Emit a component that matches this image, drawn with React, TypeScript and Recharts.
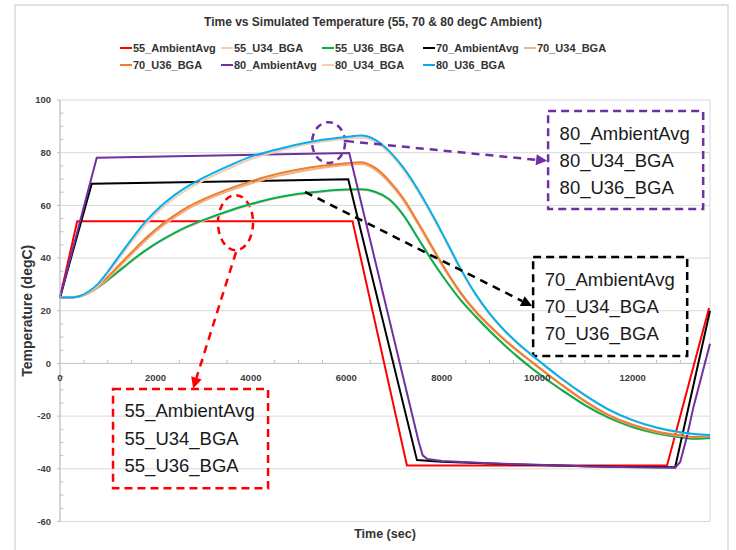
import React from 'react';
import {
  LineChart,
  Line,
  XAxis,
  YAxis,
  CartesianGrid,
  ReferenceLine,
  ReferenceArea,
  ReferenceDot,
} from 'recharts';

const FONT = '"Liberation Sans", Arial, Helvetica, sans-serif';

// ---------- axis ticks ----------
const xTicks = [0, 2000, 4000, 6000, 8000, 10000, 12000];
const yTicks = [-60, -40, -20, 0, 20, 40, 60, 80, 100];
const xMinorTicks = [500, 1000, 1500, 2500, 3000, 3500, 4500, 5000, 5500, 6500, 7000, 7500, 8500, 9000, 9500, 10500, 11000, 11500, 12500, 13000, 13500];
const yMinorTicks = [-55, -50, -45, -35, -30, -25, -15, -10, -5, 5, 10, 15, 25, 30, 35, 45, 50, 55, 65, 70, 75, 85, 90, 95];

// ---------- ambient series ----------
const t55Amb = [0, 360, 6130, 7270, 12720, 13600];
const v55Amb = [25, 54, 54, -38.7, -38.7, 21];

const t70Amb = [0, 665, 6040, 7480, 8000, 9000, 10000, 11000, 12000, 12890, 13620];
const v70Amb = [25, 68.2, 69.9, -36.7, -37.3, -38.0, -38.6, -39.0, -39.3, -39.4, 20];

const t80Amb = [0, 770, 6060, 7520, 7600, 7700, 8000, 9000, 10000, 11000, 12000, 12890, 12995, 13135, 13274, 13620];
const v80Amb = [25, 78.1, 79.9, -30.0, -34.9, -36.3, -37.0, -37.9, -38.5, -39.0, -39.4, -39.6, -37.4, -27.9, -16.5, 7.5];

// ---------- board (BGA) series ----------
const tBoard = [0, 200, 400, 600, 800, 1000, 1200, 1500, 1800, 2100, 2400, 2700, 3000, 3500, 4000, 4500, 5000, 5500, 6000, 6300, 6600, 6900, 7200, 7500, 7800, 8100, 8400, 8700, 9000, 9300, 9600, 9900, 10200, 10500, 11000, 11500, 12000, 12500, 13000, 13300, 13620];

const v55U34 = [25, 25, 25.3, 26.6, 28.7, 31.4, 34.3, 38.7, 42.7, 46.2, 49.3, 51.9, 54.1, 57.4, 60.2, 62.5, 64.1, 65.1, 65.7, 65.8, 64.9, 62.0, 55.9, 47.3, 38.7, 30.9, 23.8, 17.8, 12.2, 7.0, 2.2, -2.2, -6.3, -10.1, -16.0, -20.8, -24.3, -26.7, -28.1, -28.7, -28.4];
const v55U36 = [25, 25, 25.4, 26.8, 29.0, 31.7, 34.6, 39.0, 43.0, 46.5, 49.6, 52.2, 54.4, 57.7, 60.5, 62.8, 64.4, 65.4, 66.0, 66.1, 65.2, 62.3, 56.2, 47.6, 39.0, 31.1, 24.0, 18.0, 12.4, 7.2, 2.4, -2.0, -6.1, -9.9, -15.8, -20.6, -24.1, -26.5, -28.0, -28.6, -28.3];
const v70U34 = [25, 25, 25.3, 26.7, 29.1, 32.2, 35.9, 41.4, 46.8, 51.5, 55.4, 58.8, 61.5, 65.2, 68.3, 70.9, 72.8, 74.3, 75.3, 75.7, 73.6, 68.6, 61.8, 52.9, 43.6, 34.4, 26.3, 19.6, 14.0, 9.0, 4.4, 0.2, -4.0, -8.1, -14.5, -19.8, -23.5, -26.0, -27.5, -28.0, -27.5];
const v70U36 = [25, 25, 25.4, 27.0, 29.6, 32.8, 36.6, 42.2, 47.6, 52.3, 56.2, 59.6, 62.3, 66.0, 69.1, 71.7, 73.6, 75.0, 76.0, 76.4, 74.3, 69.3, 62.5, 53.6, 44.2, 35.0, 26.8, 20.0, 14.4, 9.3, 4.7, 0.4, -3.8, -7.9, -14.3, -19.6, -23.3, -25.8, -27.3, -27.9, -27.4];
const v80U34 = [25, 25, 25.4, 27.0, 29.8, 34.1, 38.9, 46.2, 52.9, 58.4, 62.8, 66.4, 69.4, 73.7, 77.6, 80.2, 82.5, 84.2, 85.3, 85.8, 84.3, 79.9, 73.5, 65.3, 55.9, 45.7, 35.3, 26.2, 18.7, 12.5, 7.3, 2.8, -1.6, -5.8, -12.2, -17.7, -21.7, -24.5, -26.3, -27.0, -27.3];
const v80U36 = [25, 25, 25.5, 27.3, 30.3, 34.8, 39.8, 47.2, 54.0, 59.5, 63.9, 67.5, 70.4, 74.7, 78.5, 81.0, 83.2, 84.9, 86.0, 86.5, 85.0, 80.6, 74.2, 66.0, 56.5, 46.3, 35.8, 26.6, 19.0, 12.8, 7.6, 3.0, -1.4, -5.6, -12.0, -17.5, -21.5, -24.3, -26.1, -26.8, -27.2];

const seriesNames = ['55_AmbientAvg', '55_U34_BGA', '55_U36_BGA', '70_AmbientAvg', '70_U34_BGA', '70_U36_BGA', '80_AmbientAvg', '80_U34_BGA', '80_U36_BGA'];
const seriesColors = ['#FF0000', '#F8CBAD', '#00B050', '#000000', '#F4B183', '#ED7D31', '#7030A0', '#F8CBAD', '#00B0F0'];

const zip = (ts: number[], vs: number[]) => ts.map((t, i) => ({ t, v: vs[i] }));

const seriesData = [
  zip(t55Amb, v55Amb),
  zip(tBoard, v55U34),
  zip(tBoard, v55U36),
  zip(t70Amb, v70Amb),
  zip(tBoard, v70U34),
  zip(tBoard, v70U36),
  zip(t80Amb, v80Amb),
  zip(tBoard, v80U34),
  zip(tBoard, v80U36),
];
const seriesCurve = ['linear', 'monotone', 'monotone', 'linear', 'monotone', 'monotone', 'linear', 'monotone', 'monotone'];

// ---------- annotation texts ----------
const note55 = ['55_AmbientAvg', '55_U34_BGA', '55_U36_BGA'];
const note70 = ['70_AmbientAvg', '70_U34_BGA', '70_U36_BGA'];
const note80 = ['80_AmbientAvg', '80_U34_BGA', '80_U36_BGA'];

const RED = '#FF0000';
const PURPLE = '#7030A0';
const BLACK = '#000000';

const boxShape = (color: string, lines: string[]) => (p: any) => (
  <g>
    <rect x={p.x} y={p.y} width={p.width} height={p.height} fill="none" stroke={color} strokeWidth={2.5} strokeDasharray="8 5" />
    {lines.map((s, i) => (
      <text key={s} x={p.x + 11.5} y={p.y + 28.5 + i * 27.3} fontSize={18.5} fill="#1a1a1a" fontFamily={FONT}>
        {s}
      </text>
    ))}
  </g>
);

const ellipseShape = (color: string) => (p: any) => (
  <ellipse
    cx={p.x + p.width / 2}
    cy={p.y + p.height / 2}
    rx={Math.abs(p.width) / 2}
    ry={Math.abs(p.height) / 2}
    fill="none"
    stroke={color}
    strokeWidth={2.5}
    strokeDasharray="7 5"
  />
);

const arrowShape = (color: string) => (p: any) => {
  const x1 = Number(p.x1), y1 = Number(p.y1), x2 = Number(p.x2), y2 = Number(p.y2);
  const ang = Math.atan2(y2 - y1, x2 - x1);
  const L = 11;
  const W = 5.5;
  const bx = x2 - L * Math.cos(ang);
  const by = y2 - L * Math.sin(ang);
  const pts = [
    [x2, y2],
    [bx - W * Math.sin(ang), by + W * Math.cos(ang)],
    [bx + W * Math.sin(ang), by - W * Math.cos(ang)],
  ]
    .map((q) => q.join(','))
    .join(' ');
  return (
    <g>
      <line x1={x1} y1={y1} x2={bx} y2={by} stroke={color} strokeWidth={2.5} strokeDasharray="8 6" />
      <polygon points={pts} fill={color} />
    </g>
  );
};

const xTickShape = (label: string) => (p: any) => (
  <text x={p.cx} y={p.cy + 17.5} textAnchor="middle" fontSize={9.5} fontWeight="bold" fill="#404040" fontFamily={FONT}>
    {label}
  </text>
);

export default function App() {
  return (
    <div style={{ position: 'absolute', left: 0, top: 0, width: 736, height: 550, overflow: 'hidden', background: '#fff', fontFamily: FONT }}>
      <div style={{ position: 'absolute', left: 14, top: 4, width: 715, height: 560, border: '2px solid #e2e2e2', boxSizing: 'border-box' }} />
      <div style={{ position: 'absolute', left: 10, top: 15, width: 726, textAlign: 'center', fontSize: 12, lineHeight: '15px', fontWeight: 'bold', color: '#333' }}>
        Time vs Simulated Temperature (55, 70 &amp; 80 degC Ambient)
      </div>
      <div style={{ position: 'absolute', left: 120, top: 39, display: 'grid', gridTemplateColumns: 'repeat(5, 101px)' }}>
        {seriesNames.map((n, i) => (
          <div key={n} style={{ display: 'flex', alignItems: 'center', height: 17, whiteSpace: 'nowrap' }}>
            <span style={{ display: 'inline-block', width: 12, height: 2, background: seriesColors[i] }} />
            <span style={{ marginLeft: 1, fontSize: 11, fontWeight: 'bold', color: '#333' }}>{n}</span>
          </div>
        ))}
      </div>
      <div style={{ position: 'absolute', left: 0, top: 0 }}>
        <LineChart width={736} height={550} margin={{ top: 100, right: 26, bottom: 8.5, left: 15 }}>
          <CartesianGrid stroke="#d9d9d9" strokeWidth={1} />
          <XAxis
            dataKey="t"
            type="number"
            domain={[0, 13620]}
            ticks={xTicks}
            allowDuplicatedCategory={false}
            height={20}
            tick={false}
            axisLine={false}
            tickLine={false}
            label={{ value: 'Time (sec)', position: 'insideBottom', offset: 4, style: { fontSize: 12.5, fontWeight: 'bold', fill: '#333', fontFamily: FONT } }}
          />
          <YAxis
            type="number"
            domain={[-60, 100]}
            ticks={yTicks}
            width={45}
            axisLine={{ stroke: '#bfbfbf' }}
            tickLine={{ stroke: '#bfbfbf' }}
            tickSize={3}
            tickMargin={6}
            tick={{ fontSize: 9.5, fontWeight: 'bold', fill: '#404040', fontFamily: FONT }}
            label={{ value: 'Temperature (degC)', angle: -90, position: 'insideLeft', offset: 12.5, style: { textAnchor: 'middle', fontSize: 14, fontWeight: 'bold', fill: '#333', fontFamily: FONT } }}
          />
          <ReferenceLine y={0} stroke="#c4c4c4" strokeWidth={1} />
          {xMinorTicks.map((t) => (
            <ReferenceLine key={'xm' + t} segment={[{ x: t, y: 0 }, { x: t, y: 1.3 }]} stroke="#bfbfbf" />
          ))}
          {yMinorTicks.map((v) => (
            <ReferenceLine key={'ym' + v} segment={[{ x: 0, y: v }, { x: 75, y: v }]} stroke="#bfbfbf" />
          ))}
          {xTicks.map((t) => (
            <ReferenceDot key={'xl' + t} x={t} y={0} r={0} shape={xTickShape(String(t))} />
          ))}
          {seriesNames.map((n, i) => (
            <Line
              key={n}
              data={seriesData[i]}
              dataKey="v"
              name={n}
              type={seriesCurve[i] as any}
              stroke={seriesColors[i]}
              strokeWidth={2}
              dot={false}
              activeDot={false}
              isAnimationActive={false}
            />
          ))}
          {/* 55 annotation */}
          <ReferenceArea x1={3310} x2={4045} y1={43.0} y2={63.9} shape={ellipseShape(RED)} />
          <ReferenceLine segment={[{ x: 3689, y: 42.3 }, { x: 2790, y: -9.5 }]} shape={arrowShape(RED)} />
          <ReferenceArea x1={1111} x2={4360} y1={-47.4} y2={-9.7} shape={boxShape(RED, note55)} />
          {/* 80 annotation */}
          <ReferenceArea x1={5282} x2={5973} y1={76.1} y2={91.6} shape={ellipseShape(PURPLE)} />
          <ReferenceLine segment={[{ x: 5995, y: 84.4 }, { x: 10207, y: 76.9 }]} shape={arrowShape(PURPLE)} />
          <ReferenceArea x1={10228} x2={13477} y1={58.6} y2={95.8} shape={boxShape(PURPLE, note80)} />
          {/* 70 annotation */}
          <ReferenceLine segment={[{ x: 5135, y: 65.1 }, { x: 9893, y: 21.8 }]} shape={arrowShape(BLACK)} />
          <ReferenceArea x1={9914} x2={13142} y1={2.8} y2={40.4} shape={boxShape(BLACK, note70)} />
        </LineChart>
      </div>
    </div>
  );
}
